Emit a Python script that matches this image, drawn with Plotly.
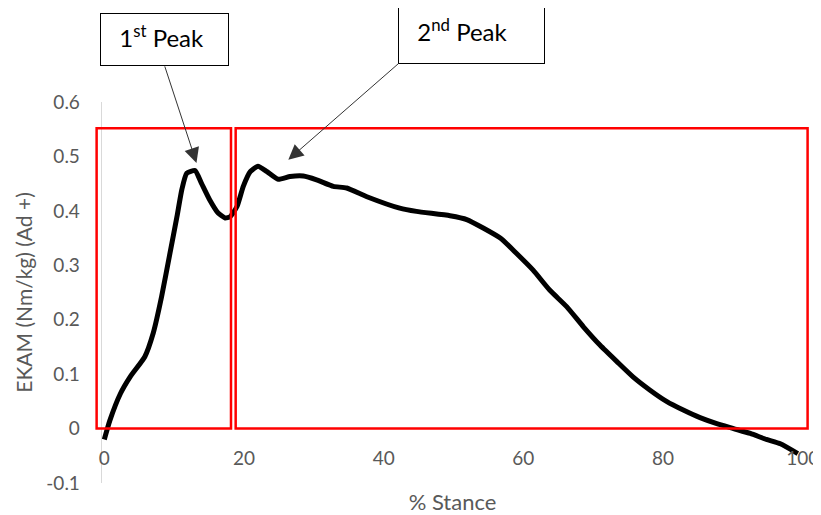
import plotly.graph_objects as go

# ---- data ----
stance_pct = [0.0, 0.8, 2.3, 3.7, 5.8, 7.0, 8.2, 9.4, 10.4, 11.1, 11.8, 13.0, 13.9,
              15.1, 16.3, 17.3, 18.0, 19.0, 19.9, 20.9, 22.0, 23.3, 24.9, 26.6, 28.5,
              30.4, 32.8, 34.7, 37.6, 42.3, 44.7, 49.5, 51.9, 56.7, 59.0, 61.4, 63.8,
              66.2, 68.6, 71.0, 73.4, 75.7, 78.1, 80.5, 82.9, 85.3, 87.7, 90.1, 92.5,
              94.8, 96.8, 99.3]
ekam = [-0.020, 0.015, 0.064, 0.095, 0.132, 0.175, 0.242, 0.322, 0.389, 0.439, 0.469,
        0.474, 0.451, 0.420, 0.396, 0.387, 0.389, 0.408, 0.445, 0.472, 0.482, 0.472,
        0.458, 0.463, 0.464, 0.457, 0.445, 0.442, 0.426, 0.405, 0.399, 0.391, 0.384,
        0.350, 0.322, 0.291, 0.254, 0.224, 0.187, 0.153, 0.123, 0.095, 0.071, 0.050,
        0.034, 0.020, 0.009, 0.000, -0.009, -0.020, -0.028, -0.046]

x_tick_vals = [0, 20, 40, 60, 80, 100]
x_tick_text = ["0", "20", "40", "60", "80", "100"]
y_tick_vals = [-0.1, 0, 0.1, 0.2, 0.3, 0.4, 0.5, 0.6]
y_tick_text = ["-0.1", "0", "0.1", "0.2", "0.3", "0.4", "0.5", "0.6"]

# phase boxes (x start, x end) and height
phase1 = [-1.1, 18.14]
phase2 = [18.81, 100.7]
box_top = 0.552

peak_labels = ["1<sup>st</sup> Peak", "2<sup>nd</sup> Peak"]
peak_tips = [(13.2, 0.488), (26.35, 0.494)]

# page body has an 8px margin -> draw the figure 8px smaller
OFF = 8
W, H = 821 - OFF, 515 - OFF
ML, MR, MT, MB = 95 - OFF, 11, 102 - OFF, 32

FONT = "Lato"
GREY = "#595959"

fig = go.Figure()
fig.add_trace(go.Scatter(
    x=stance_pct, y=ekam, mode="lines",
    line=dict(color="black", width=5, shape="spline", smoothing=0.5),
    showlegend=False, hoverinfo="skip"))

shapes = []
for x0, x1 in (phase1, phase2):
    shapes.append(dict(type="rect", xref="x", yref="y", x0=x0, x1=x1, y0=0, y1=box_top,
                       line=dict(color="#ff0000", width=2.5), fillcolor="rgba(0,0,0,0)",
                       layer="above"))

PAD = 6
label_style = dict(showarrow=True, arrowhead=2, arrowsize=3, arrowwidth=1,
                   arrowcolor="#333333", bordercolor="black", borderwidth=1,
                   borderpad=PAD, bgcolor="white", align="left", valign="top",
                   font=dict(family=FONT, size=24, color="black"), yanchor="bottom")
annotations = [
    dict(x=peak_tips[0][0], y=peak_tips[0][1], xref="x", yref="y",
         text="&nbsp;&nbsp;" + peak_labels[0], ax=-31.7, ay=-96.6, xanchor="center",
         width=129 - 2 * (PAD + 1), height=53.3 - 2 * (PAD + 1), **label_style),
    dict(x=peak_tips[1][0], y=peak_tips[1][1], xref="x", yref="y",
         text="&nbsp;&nbsp;" + peak_labels[1], ax=110, ay=-96, xanchor="left",
         width=147 - 2 * (PAD + 1), height=56.6 - 2 * (PAD + 1), **label_style),
]

# x scale: 0 -> px 104.3, 100 -> px 802.7 (reference pixels)
x0 = (ML + OFF - 104.3) / 6.984
x1 = (W - MR + OFF - 104.3) / 6.984
PW = W - ML - MR

fig.update_layout(
    width=W, height=H,
    margin=dict(l=ML, r=MR, t=MT, b=MB, autoexpand=False),
    paper_bgcolor="white", plot_bgcolor="white",
    font=dict(family=FONT, color=GREY),
    shapes=shapes, annotations=annotations,
    xaxis=dict(range=[x0, x1], tickvals=x_tick_vals, ticktext=x_tick_text,
               showgrid=False, zeroline=False, showline=False, ticks="",
               anchor="free", position=0.1/0.7, ticklabelstandoff=16,
               tickfont=dict(family=FONT, size=19, color=GREY),
               title=dict(text="% Stance", font=dict(family=FONT, size=22, color=GREY), standoff=27)),
    yaxis=dict(range=[-0.1, 0.6], tickvals=y_tick_vals, ticktext=y_tick_text,
               showgrid=False, zeroline=False, showline=True, linecolor="#d9d9d9", linewidth=1,
               ticks="", anchor="free", position=(100.7 - OFF - ML) / PW, ticklabelstandoff=17,
               tickfont=dict(family=FONT, size=19, color=GREY),
               title=dict(text="EKAM (Nm/kg) (Ad +)", font=dict(family=FONT, size=21, color=GREY), standoff=6)),
)

fig.write_html("out.html")
